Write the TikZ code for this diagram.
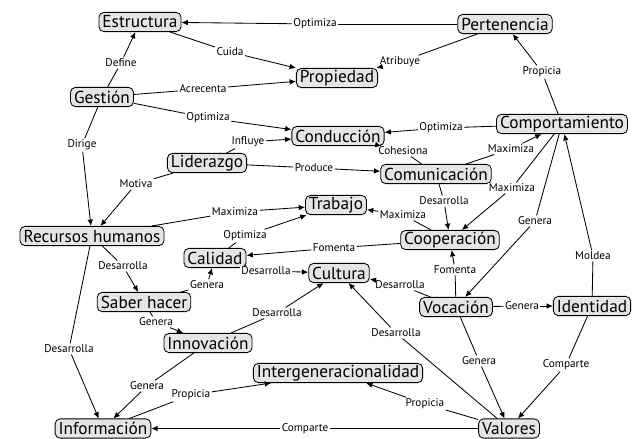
\documentclass[tikz,border=0pt]{standalone}
\usepackage{fontspec}
\setmainfont{PT Sans}
\usetikzlibrary{arrows.meta}
\begin{document}
\begin{tikzpicture}[x=0.025cm,y=-0.025cm,line width=0.6pt,
        concepto/.style={draw,rounded corners=3.5pt,fill=black!10,inner xsep=2.5pt,inner ysep=0pt,minimum height=0.48cm,font=\fontsize{12.3}{14}\selectfont},
        enlace/.style={fill=white,inner sep=0.8pt,font=\fontsize{8}{9}\selectfont},
        flecha/.style={-{Latex[length=4.5pt,width=4pt]}}]
        \useasboundingbox (0,0) rectangle (637,439);

        % conceptos
        \draw (140,22) node[concepto] (Estructura) {Estructura};
        \draw (505,24) node[concepto] (Pertenencia) {Pertenencia};
        \draw (337,78) node[concepto] (Propiedad) {Propiedad};
        \draw (102,97) node[concepto] (Gestion) {Gestión};
        \draw (338,136) node[concepto] (Conduccion) {Conducción};
        \draw (562,124) node[concepto] (Comportamiento) {Comportamiento};
        \draw (207,163) node[concepto] (Liderazgo) {Liderazgo};
        \draw (436,174) node[concepto] (Comunicacion) {Comunicación};
        \draw (336,205) node[concepto] (Trabajo) {Trabajo};
        \draw (92,236) node[concepto] (RecHum) {Recursos humanos};
        \draw (450,240) node[concepto] (Cooperacion) {Cooperación};
        \draw (215,258) node[concepto] (Calidad) {Calidad};
        \draw (339,273) node[concepto] (Cultura) {Cultura};
        \draw (144,302) node[concepto] (SabHac) {Saber hacer};
        \draw (456,307) node[concepto] (Vocacion) {Vocación};
        \draw (592,306) node[concepto] (Identidad) {Identidad};
        \draw (208,343) node[concepto] (Innovacion) {Innovación};
        \draw (338,373) node[concepto] (Intergen) {Intergeneracionalidad};
        \draw (103,428.5) node[concepto] (Informacion) {Información};
        \draw (509,428.5) node[concepto] (Valores) {Valores};

        % palabras de enlace
        \draw (315,24) node[enlace] (lPerEst) {Optimiza};
        \draw (230,52) node[enlace] (lEstPro) {Cuida};
        \draw (400,62) node[enlace] (lPerPro) {Atribuye};
        \draw (542,72) node[enlace] (lComPer) {Propicia};
        \draw (121,63) node[enlace] (lGesEst) {Define};
        \draw (203,89) node[enlace] (lGesPro) {Acrecenta};
        \draw (208,118) node[enlace] (lGesCon) {Optimiza};
        \draw (82,145) node[enlace] (lGesRH) {Dirige};
        \draw (248,142) node[enlace] (lLidCon) {Influye};
        \draw (136,184) node[enlace] (lLidRH) {Motiva};
        \draw (314,168) node[enlace] (lLidCom) {Produce};
        \draw (441,128) node[enlace] (lCmpCon) {Optimiza};
        \draw (403,151) node[enlace] (lComCon) {Cohesiona};
        \draw (511,149) node[enlace] (lComCmp) {Maximiza};
        \draw (444,201) node[enlace] (lComCoo) {Desarrolla};
        \draw (512,188) node[enlace] (lCmpCoo) {Maximiza};
        \draw (403,215) node[enlace] (lCooTra) {Maximiza};
        \draw (235,212) node[enlace] (lRHTra) {Maximiza};
        \draw (245,236) node[enlace] (lCalTra) {Optimiza};
        \draw (334,248) node[enlace] (lCooCal) {Fomenta};
        \draw (266,271) node[enlace] (lCalCul) {Desarrolla};
        \draw (400,285) node[enlace] (lVocCul) {Desarrolla};
        \draw (455,270) node[enlace] (lVocCoo) {Fomenta};
        \draw (535,221) node[enlace] (lCmpVoc) {Genera};
        \draw (593,256) node[enlace] (lIdeCmp) {Moldea};
        \draw (522,306) node[enlace] (lVocIde) {Genera};
        \draw (479,361) node[enlace] (lVocVal) {Genera};
        \draw (566,365) node[enlace] (lIdeVal) {Comparte};
        \draw (396,333) node[enlace] (lValCul) {Desarrolla};
        \draw (425,404) node[enlace] (lValInt) {Propicia};
        \draw (305,428.5) node[enlace] (lValInf) {Comparte};
        \draw (123,266) node[enlace] (lRHSab) {Desarrolla};
        \draw (207,285) node[enlace] (lSabCal) {Genera};
        \draw (156,322) node[enlace] (lSabInn) {Genera};
        \draw (277,313) node[enlace] (lInnCul) {Desarrolla};
        \draw (69,349) node[enlace] (lRHInf) {Desarrolla};
        \draw (147,386) node[enlace] (lInnInf) {Genera};
        \draw (191,395) node[enlace] (lInfInt) {Propicia};

        % conexiones de la parte alta
        \draw (Pertenencia) -- (lPerEst) edge[flecha] (Estructura);
        \draw (Estructura) -- (lEstPro) edge[flecha] (Propiedad);
        \draw (Pertenencia) -- (lPerPro) edge[flecha] (Propiedad);
        \draw (Comportamiento) -- (lComPer) edge[flecha] (Pertenencia);
        \draw (Gestion) -- (lGesEst) edge[flecha] (Estructura);
        \draw (Gestion) -- (lGesPro) edge[flecha] (Propiedad);
        \draw (Gestion) -- (lGesCon) edge[flecha] (Conduccion);
        \draw (Gestion) -- (lGesRH) edge[flecha] (RecHum);
        \draw (Liderazgo) -- (lLidCon) edge[flecha] (Conduccion);
        \draw (Liderazgo) -- (lLidRH) edge[flecha] (RecHum);
        \draw (Liderazgo) -- (lLidCom) edge[flecha] (Comunicacion);
        \draw (Comportamiento) -- (lCmpCon) edge[flecha] (Conduccion);
        \draw (Comunicacion) -- (lComCon) edge[flecha] (Conduccion);
        \draw (Comunicacion) -- (lComCmp) edge[flecha] (Comportamiento);

        % conexiones del centro
        \draw (Comunicacion) -- (lComCoo) edge[flecha] (Cooperacion);
        \draw (Comportamiento) -- (lCmpCoo) edge[flecha] (Cooperacion);
        \draw (Cooperacion) -- (lCooTra) edge[flecha] (Trabajo);
        \draw (RecHum) -- (lRHTra) edge[flecha] (Trabajo);
        \draw (Calidad) -- (lCalTra) edge[flecha] (Trabajo);
        \draw (Cooperacion) -- (lCooCal) edge[flecha] (Calidad);
        \draw (Calidad) -- (lCalCul) edge[flecha] (Cultura);
        \draw (Vocacion) -- (lVocCul) edge[flecha] (Cultura);
        \draw (Vocacion) -- (lVocCoo) edge[flecha] (Cooperacion);
        \draw (Comportamiento) -- (lCmpVoc) edge[flecha] (Vocacion);
        \draw (Identidad) -- (lIdeCmp) edge[flecha] (Comportamiento);
        \draw (Vocacion) -- (lVocIde) edge[flecha] (Identidad);

        % conexiones de la parte baja
        \draw (Vocacion) -- (lVocVal) edge[flecha] (Valores);
        \draw (Identidad) -- (lIdeVal) edge[flecha] (Valores);
        \draw (Valores) -- (lValCul) edge[flecha] (Cultura);
        \draw (Valores) -- (lValInt) edge[flecha] (Intergen);
        \draw (Valores) -- (lValInf) edge[flecha] (Informacion);
        \draw (RecHum) -- (lRHSab) edge[flecha] (SabHac);
        \draw (SabHac) -- (lSabCal) edge[flecha] (Calidad);
        \draw (SabHac) -- (lSabInn) edge[flecha] (Innovacion);
        \draw (Innovacion) -- (lInnCul) edge[flecha] (Cultura);
        \draw (RecHum) -- (lRHInf) edge[flecha] (Informacion);
        \draw (Innovacion) -- (lInnInf) edge[flecha] (Informacion);
        \draw (Informacion) -- (lInfInt) edge[flecha] (Intergen);
    \end{tikzpicture}
\end{document}
